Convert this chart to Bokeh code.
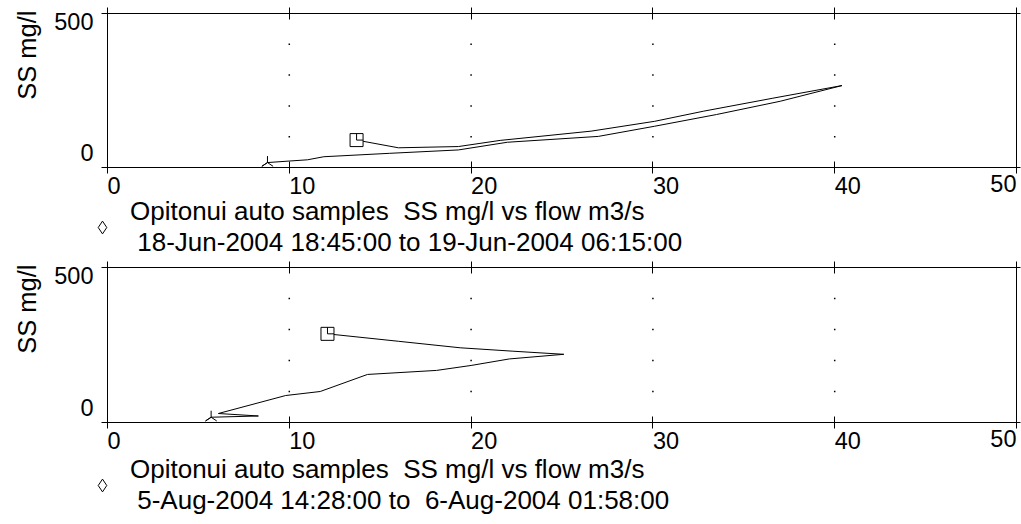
import numpy as np
from bokeh.plotting import figure
from bokeh.models import (Range1d, FixedTicker, LinearAxis, Legend, Title,
                          LegendItem, ColumnDataSource)
from bokeh.layouts import column
from bokeh.embed import file_html
from bokeh.resources import INLINE

# ---------------- data ----------------
x_ticks = [0, 10, 20, 30, 40, 50]
y_ticks = [0, 500]
grid_x = [10, 20, 30, 40]
grid_y = [100, 200, 300, 400]

june_flow = [8.8, 10.0, 11.0, 11.9, 15.5, 19.3, 22.0, 27.0, 30.1, 33.5, 37.0, 40.4,
             36.6, 32.8, 30.1, 26.6, 21.6, 19.3, 16.0, 13.7]
june_ss = [16, 21, 25, 35, 46, 57, 82, 101, 134, 172, 215, 266,
           225, 183, 150, 118, 88, 68, 64, 89]

aug_flow = [5.7, 8.3, 6.1, 9.8, 11.7, 14.3, 18.1, 20.0, 22.1, 25.1, 22.3, 19.4, 16.0, 12.1]
aug_ss = [17, 21, 29, 87, 100, 155, 168, 184, 205, 220, 230, 241, 262, 286]

series_name = "Opitonui auto samples  SS mg/l vs flow m3/s"
june_period = "18-Jun-2004 18:45:00 to 19-Jun-2004 06:15:00"
aug_period = "5-Aug-2004 14:28:00 to  6-Aug-2004 01:58:00"
y_title = "SS mg/l"

FONT = "Liberation Sans"
TICK_FS = "23.5px"
TEXT_FS = "26px"
EPS = 1e-6


def ticks_only(ax, tick_values, t_in=6, t_out=6):
    ax.ticker = FixedTicker(ticks=[], minor_ticks=tick_values)
    ax.axis_line_color = "black"
    ax.major_tick_line_color = None
    ax.minor_tick_line_color = "black"
    ax.minor_tick_in = t_in
    ax.minor_tick_out = t_out
    ax.major_label_standoff = 0


def labels_only(ax, tick_values, standoff):
    ax.ticker = FixedTicker(ticks=tick_values)
    ax.axis_line_color = None
    ax.major_tick_line_color = None
    ax.minor_tick_line_color = None
    ax.major_tick_in = 0
    ax.major_tick_out = 0
    ax.major_label_standoff = standoff
    ax.major_label_text_font = FONT
    ax.major_label_text_font_size = TICK_FS
    ax.major_label_text_color = "black"


def make_plot(flow, ss, height, top, bottom):
    frame_h = height - top - bottom
    units_per_px = (y_ticks[-1] - y_ticks[0]) / (frame_h - 23)
    p = figure(width=1021, height=height, output_backend="svg", toolbar_location=None,
               x_range=Range1d(x_ticks[0], x_ticks[-1]), y_range=Range1d(y_ticks[0], y_ticks[-1]),
               x_axis_location=None, y_axis_location=None, frame_align=False,
               min_border_left=106, min_border_right=5, min_border_top=top,
               min_border_bottom=bottom)
    p.outline_line_color = None
    p.grid.grid_line_color = None
    p.background_fill_color = "white"
    p.border_fill_color = "white"
    # label range for the y tick labels (top label sits below the top tick,
    # bottom label above the bottom tick, as in the original)
    p.extra_y_ranges = {"ylab": Range1d(y_ticks[0] - 15 * units_per_px,
                                        y_ticks[-1] + 8 * units_per_px)}

    # bottom: ticks + labels (left aligned)
    xb = LinearAxis(ticker=FixedTicker(ticks=x_ticks))
    xb.axis_line_color = "black"
    xb.major_tick_line_color = "black"
    xb.minor_tick_line_color = None
    xb.major_tick_in = 6
    xb.major_tick_out = 6
    xb.major_label_standoff = 12
    xb.major_label_orientation = -EPS
    xb.major_label_text_font = FONT
    xb.major_label_text_font_size = TICK_FS
    xb.major_label_text_color = "black"
    xb.major_label_overrides = {x_ticks[-1]: ""}
    p.add_layout(xb, "below")
    # last label, right aligned at its tick
    xb2 = LinearAxis()
    labels_only(xb2, [x_ticks[-1]], -22)
    xb2.major_label_orientation = EPS
    p.add_layout(xb2, "below")

    xt = LinearAxis()
    ticks_only(xt, x_ticks)
    p.add_layout(xt, "above")

    yl = LinearAxis()
    ticks_only(yl, y_ticks)
    p.add_layout(yl, "left")
    yl2 = LinearAxis(y_range_name="ylab")
    labels_only(yl2, y_ticks, 8)
    p.add_layout(yl2, "left")

    yr = LinearAxis()
    ticks_only(yr, y_ticks, 6, 4)
    p.add_layout(yr, "right")

    p.add_layout(Title(text=y_title, align="right", text_font=FONT,
                       text_font_size="25.5px", text_font_style="normal",
                       text_color="black", offset=-3, standoff=21), "left")

    # dotted grid marks
    gx = [x for x in grid_x for _ in grid_y]
    gy = [y for _ in grid_x for y in grid_y]
    p.scatter(gx, gy, marker="square", size=1.5, color="black", line_color=None)

    # data line
    p.line(flow, ss, line_color="black", line_width=1)
    # start marker
    p.scatter([flow[0]], [ss[0]], marker="y", angle=np.pi, size=13,
              line_color="black", line_width=1)
    # end marker
    p.scatter([flow[-1]], [ss[-1]], marker="square", size=13, fill_color="white",
              line_color="black", line_width=1)
    p.ray([flow[-1], flow[-1]], [ss[-1], ss[-1]], length=6.5, length_units="screen",
          angle=[np.pi / 2, 0], line_color="black", line_width=1)
    return p


def make_key(period, height, top_margin):
    s = figure(width=1021, height=height, output_backend="svg", toolbar_location=None,
               x_axis_location=None, y_axis_location=None, frame_align=False,
               x_range=Range1d(x_ticks[0], x_ticks[-1]), y_range=Range1d(y_ticks[0], y_ticks[-1]),
               min_border_left=86, min_border_right=0, min_border_top=0, min_border_bottom=0)
    s.outline_line_color = None
    s.grid.grid_line_color = None
    s.background_fill_color = None
    s.border_fill_color = None
    s.margin = (top_margin, 0, 0, 0)
    # key glyph only (no point is drawn in the plot area)
    src = ColumnDataSource(data=dict(x=[float("nan")], y=[float("nan")]))
    diamond = s.scatter("x", "y", source=src, marker="diamond",
                        fill_color="white", line_color="black", line_width=1)
    leg = Legend(items=[LegendItem(label=series_name + "\n\u00a0" + period, renderers=[diamond])],
                 location="top_left", glyph_width=32, glyph_height=32, label_standoff=12,
                 padding=0, margin=0, border_line_color=None, background_fill_alpha=0,
                 label_text_font=FONT, label_text_font_size=TEXT_FS, label_text_color="black")
    s.add_layout(leg, "center")
    return s


p1 = make_plot(june_flow, june_ss, 213, 13, 46)
k1 = make_key(june_period, 62, -17)
p2 = make_plot(aug_flow, aug_ss, 210, 9, 46)
k2 = make_key(aug_period, 70, -14)
p = column(p1, k1, p2, k2)

open("out.html", "w").write(file_html(p, INLINE))
